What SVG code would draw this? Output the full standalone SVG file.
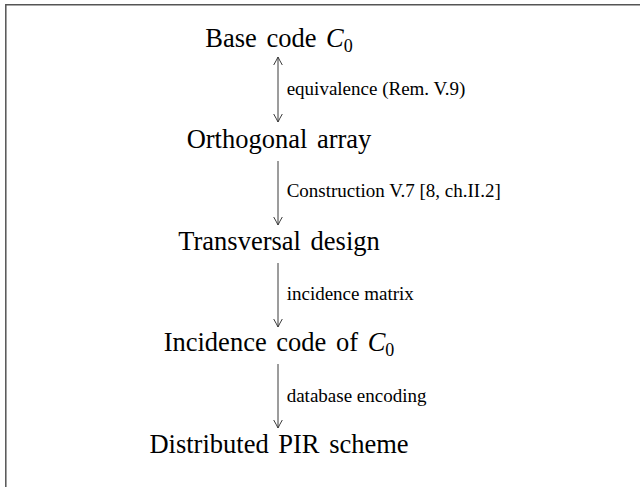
<svg xmlns="http://www.w3.org/2000/svg" width="640" height="487" viewBox="0 0 640 487">
<style>
.node{font-family:"Liberation Serif","Times New Roman",serif;font-size:26.5px;word-spacing:3px;fill:#000;text-anchor:middle}
.lbl{font-family:"Liberation Serif","Times New Roman",serif;font-size:19px;fill:#000}
.sub{font-size:18px}
.cal{font-style:italic}
.edge{stroke:#3a3a3a;stroke-width:1;fill:none}
.frame{stroke:#555;stroke-width:1.5;fill:none}
</style>
<defs>
<marker id="ah" markerUnits="userSpaceOnUse" markerWidth="12" markerHeight="12" viewBox="-9 -6 12 12" refX="0" refY="0" orient="auto-start-reverse">
<path d="M-8,-4.3 Q-2.2,-1 0,0 Q-2.2,1 -8,4.3" stroke="#3a3a3a" stroke-width="1" fill="none"/>
</marker>
</defs>
<rect width="640" height="487" fill="#fff"/>
<path class="frame" d="M5.8,487 V4.8 H640"/>
<g id="n1"><text class="node" x="279" y="46.7">Base code <tspan class="cal">C</tspan><tspan class="sub" dy="5">0</tspan></text></g>
<g id="n2"><text class="node" x="279" y="148.2">Orthogonal array</text></g>
<g id="n3"><text class="node" x="279" y="249.7">Transversal design</text></g>
<g id="n4"><text class="node" x="279" y="351.2">Incidence code of <tspan class="cal">C</tspan><tspan class="sub" dy="5">0</tspan></text></g>
<g id="n5"><text class="node" x="279" y="452.7">Distributed PIR scheme</text></g>
<g id="edges">
<line class="edge" x1="278" y1="57" x2="278" y2="122" marker-start="url(#ah)" marker-end="url(#ah)"/>
<line class="edge" x1="278" y1="161" x2="278" y2="225" marker-end="url(#ah)"/>
<line class="edge" x1="278" y1="263" x2="278" y2="327" marker-end="url(#ah)"/>
<line class="edge" x1="278" y1="364" x2="278" y2="428" marker-end="url(#ah)"/>
<text class="lbl" x="286.7" y="95">equivalence (Rem. V.9)</text>
<text class="lbl" x="286.7" y="197">Construction V.7 [8, ch.II.2]</text>
<text class="lbl" x="286.7" y="299.5">incidence matrix</text>
<text class="lbl" x="286.7" y="402">database encoding</text>
</g>
</svg>
